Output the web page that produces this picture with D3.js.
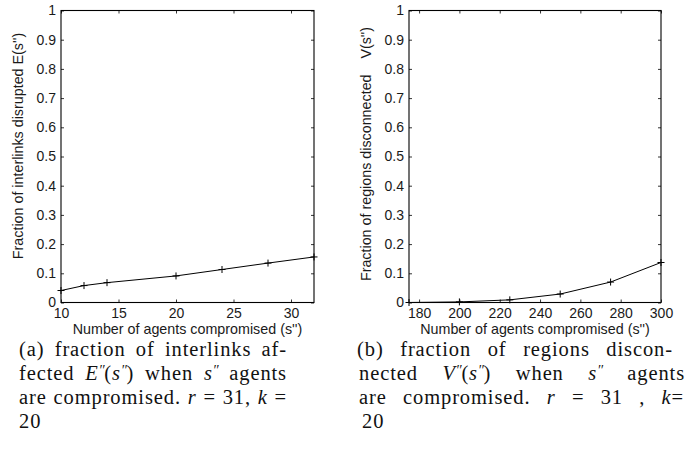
<!DOCTYPE html>
<html>
<head>
<meta charset="utf-8">
<script src="https://cdn.jsdelivr.net/npm/d3@7"></script>
<style>
  body { margin: 0; background: #fff; }
  svg { display: block; }
  .tick text { font-family: "Liberation Sans", Arial, sans-serif; font-size: 14px; fill: #1a1a1a; }
  .lbl { font-family: "Liberation Sans", Arial, sans-serif; font-size: 14.3px; fill: #1a1a1a; white-space: pre; }
  .cap { font-family: "Liberation Serif", "Times New Roman", serif; font-size: 20.5px; fill: #111; white-space: pre; letter-spacing: 0.9px; }
</style>
</head>
<body>
<svg id="svg"></svg>
<script>
// data
let leftX = [10, 12, 14, 20, 24, 28, 32];
let leftY = [0.041, 0.058, 0.068, 0.091, 0.113, 0.135, 0.156];
let rightX = [175, 200, 225, 250, 275, 300];
let rightY = [0, 0.002, 0.009, 0.029, 0.070, 0.137];

let leftTicks = [10, 15, 20, 25, 30];
let rightTicks = [180, 200, 220, 240, 260, 280, 300];
let yTicks = [0, 0.1, 0.2, 0.3, 0.4, 0.5, 0.6, 0.7, 0.8, 0.9, 1];

let width = 699;
let height = 472;
let svg = d3.select("#svg").attr("width", width).attr("height", height);

let plotTop = 10.5;
let plotBottom = 302.5;

let makePanel = (xs, ys, xDomain, xTicks, left, right, yLabel, yLabelMid) => {
  let xScale = d3.scaleLinear().domain(xDomain).range([left, right]);
  let yScale = d3.scaleLinear().domain([0, 1]).range([plotBottom, plotTop]);
  let g = svg.append("g");

  // axes with inward ticks on all four sides (box)
  g.append("g")
    .attr("transform", "translate(0," + plotBottom + ")")
    .call(d3.axisBottom(xScale).tickValues(xTicks).tickSize(-3).tickPadding(6).tickFormat(d3.format("d")));
  g.append("g")
    .attr("transform", "translate(0," + plotTop + ")")
    .call(d3.axisTop(xScale).tickValues(xTicks).tickSize(-3).tickFormat(""));
  g.append("g")
    .attr("transform", "translate(" + left + ",0)")
    .call(d3.axisLeft(yScale).tickValues(yTicks).tickSize(-3).tickPadding(5).tickFormat((d) => d3.format("~g")(d)));
  g.append("g")
    .attr("transform", "translate(" + right + ",0)")
    .call(d3.axisRight(yScale).tickValues(yTicks).tickSize(-3).tickFormat(""));
  g.selectAll(".domain").remove();
  g.selectAll(".tick line").attr("stroke", "#000").attr("stroke-width", 0.8);

  g.append("rect")
    .attr("x", left).attr("y", plotTop)
    .attr("width", right - left).attr("height", plotBottom - plotTop)
    .attr("fill", "none").attr("stroke", "#000").attr("stroke-width", 1.1);

  let pts = xs.map((x, i) => [x, ys[i]]);
  g.append("path")
    .datum(pts)
    .attr("fill", "none")
    .attr("stroke", "#000")
    .attr("stroke-width", 1)
    .attr("d", d3.line().x((d) => xScale(d[0])).y((d) => yScale(d[1])));

  g.selectAll(".mk")
    .data(pts)
    .enter()
    .append("path")
    .attr("class", "mk")
    .attr("fill", "none")
    .attr("stroke", "#000")
    .attr("stroke-width", 1)
    .attr("d", (d) => {
      let cx = xScale(d[0]), cy = yScale(d[1]);
      return "M" + (cx - 3.5) + "," + cy + "H" + (cx + 3.5) + "M" + cx + "," + (cy - 3.5) + "V" + (cy + 3.5);
    });

  g.append("text")
    .attr("class", "lbl")
    .attr("x", (left + right) / 2)
    .attr("y", 334)
    .attr("text-anchor", "middle")
    .text("Number of agents compromised (s'')");

  g.append("text")
    .attr("class", "lbl")
    .attr("transform", "translate(" + (left - 38) + "," + yLabelMid + ") rotate(-90)")
    .attr("text-anchor", "middle")
    .text(yLabel);
};

makePanel(leftX, leftY, [10, 32], leftTicks, 61, 314, "Fraction of interlinks disrupted E(s'')", 146);
makePanel(rightX, rightY, [175, 300], rightTicks, 409, 661, "Fraction of regions disconnected    V(s'')", 154);

// captions: each line is a list of [text, style] pieces
let capA = [
  [["(a) fraction of interlinks af-", ""]],
  [["fected ", ""], ["E", "i"], ["\u2032\u2032", "p"], ["(", ""], ["s", "i"], ["\u2032\u2032", "p"], [") when ", ""], ["s", "i"], ["\u2032\u2032", "p"], [" agents", ""]],
  [["are compromised. ", ""], ["r", "i"], [" = 31, ", ""], ["k", "i"], [" =", ""]],
  [["20", ""]]
];
let capB = [
  [["(b) fraction of regions discon-", ""]],
  [["nected ", ""], ["V", "i"], ["\u2032\u2032", "p"], ["(", ""], ["s", "i"], ["\u2032\u2032", "p"], [") when ", ""], ["s", "i"], ["\u2032\u2032", "p"], [" agents", ""]],
  [["are compromised. ", ""], ["r", "i"], [" = 31 , ", ""], ["k", "i"], ["=", ""]],
  [["20", ""]]
];

let makeCaption = (lines, xs, ends, y0) => {
  lines.forEach((line, li) => {
    let t = svg.append("text")
      .attr("class", "cap")
      .attr("x", xs[li])
      .attr("y", y0 + li * 24);
    let raised = false;
    line.forEach((p) => {
      let s = t.append("tspan").text(p[0]);
      if (p[1] == "i" || p[1] == "p") s.style("font-style", "italic");
      if (p[1] == "p") { s.attr("dy", -5).style("font-size", "14px").style("letter-spacing", "-0.3px"); raised = true; }
      else if (raised) { s.attr("dy", 5); raised = false; }
    });
    // justify by widening the word gaps
    if (ends[li]) {
      let full = line.map((p) => p[0]).join("");
      let gaps = (full.match(/ /g) || []).length;
      let natural = t.node().getComputedTextLength();
      if (gaps > 0) t.style("word-spacing", ((ends[li] - xs[li] - natural) / gaps) + "px");
    }
  });
};

makeCaption(capA, [19, 19, 19, 19], [287, 287, 287, null], 356);
makeCaption(capB, [357, 359, 359, 362], [673, 685, 684, null], 356);
</script>
</body>
</html>
